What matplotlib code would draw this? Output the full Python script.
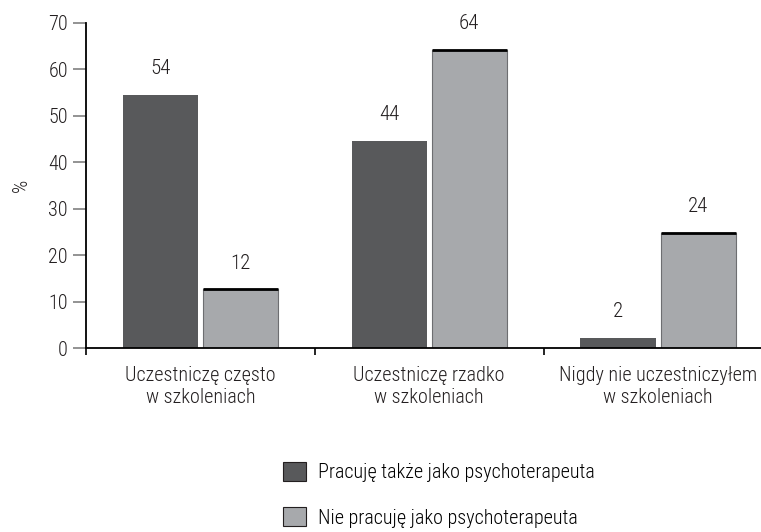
import matplotlib
matplotlib.use("Agg")
import matplotlib.pyplot as plt
import numpy as np

plt.rcParams['font.family'] = ['Liberation Sans Narrow', 'Roboto Condensed', 'Roboto', 'DejaVu Sans']
plt.rcParams['font.stretch'] = 'condensed'
plt.rcParams['font.weight'] = 'light'

# dane
categories = ["Uczestniczę często\nw szkoleniach",
              "Uczestniczę rzadko\nw szkoleniach",
              "Nigdy nie uczestniczyłem\nw szkoleniach"]
series_names = ["Pracuję także jako psychoterapeuta",
                "Nie pracuję jako psychoterapeuta"]
therapists = [54.5, 44.5, 2.2]
non_therapists = [12.6, 64.2, 24.8]
therapists_labels = ["54", "44", "2"]
non_therapists_labels = ["12", "64", "24"]

dark = "#58595b"
light = "#a7a9ac"
txt = "#231f20"

fig = plt.figure(figsize=(7.61, 5.32), dpi=100)
ax = fig.add_axes([86 / 761, 1 - 348 / 532, 1 - 86 / 761, (348 - 22.7) / 532])

x = np.arange(len(categories))
w = 0.328
off = 0.175

b1 = ax.bar(x - off, therapists, w, color=dark, edgecolor="none", label=series_names[0])
b2 = ax.bar(x + off, non_therapists, w, color=light, edgecolor="#6d6e71",
            linewidth=0.8, label=series_names[1])
# czarna krawędź na górze jasnych słupków
ax.hlines(non_therapists, x + off - w / 2, x + off + w / 2, color="black", linewidth=2)

for xi, v, lab in zip(x - off, therapists, therapists_labels):
    ax.annotate(lab, (xi, v), xytext=(0, 19), textcoords="offset points",
                ha="center", va="center", fontsize=15, color=txt)
for xi, v, lab in zip(x + off, non_therapists, non_therapists_labels):
    ax.annotate(lab, (xi, v), xytext=(0, 19), textcoords="offset points",
                ha="center", va="center", fontsize=15, color=txt)

ax.set_xlim(-0.5, 2.45)
ax.set_ylim(0, 70)
ax.set_yticks(np.arange(0, 71, 10))
ax.tick_params(axis="y", direction="out", length=9.4, width=1.2, color="#808080",
               labelsize=14.5, pad=3.5, labelcolor=txt)

ax.set_xticks(x)
ax.set_xticklabels(categories, fontsize=14.5, color=txt, linespacing=1.2)
ax.set_xticks([-0.5, 0.5, 1.5], minor=True)
ax.tick_params(axis="x", which="major", length=0, pad=13)
ax.tick_params(axis="x", which="minor", direction="out", length=5, width=1.2)

for s in ["top", "right"]:
    ax.spines[s].set_visible(False)
ax.spines["left"].set_linewidth(1.3)
ax.spines["bottom"].set_linewidth(1.3)

fig.text(21 / 761, 1 - 185 / 532, "%", rotation=90, ha="center", va="center",
         fontsize=15, color=txt)

leg = fig.legend(handles=[b1, b2], loc="upper left", bbox_to_anchor=(283 / 761, 1 - 462 / 532),
                 frameon=False, fontsize=14.5, handlelength=1.15, handleheight=1.05,
                 handletextpad=0.6, labelspacing=1.25, borderpad=0, borderaxespad=0)
for h in leg.legend_handles:
    h.set_edgecolor(txt)
    h.set_linewidth(0.8)

fig.savefig("out.png", dpi=100)
